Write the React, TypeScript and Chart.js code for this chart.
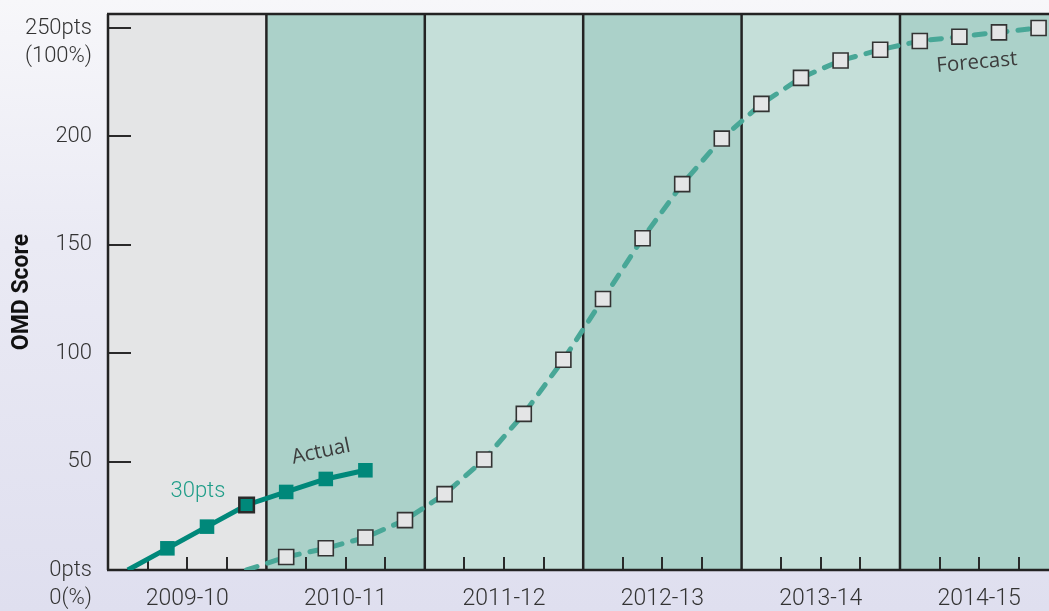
import React, { useEffect, useRef } from 'react';
import { Chart, registerables } from 'chart.js';

Chart.register(...registerables);

// ---- data ----
const yearLabels = ['2009-10', '2010-11', '2011-12', '2012-13', '2013-14', '2014-15'];
const yearCenters = [2, 6, 10, 14, 18, 22]; // quarter index of each year label
const yearEdges = [0, 4, 8, 12, 16, 20, 24]; // quarter index of year boundaries
const quarterTicks = [1, 2, 3, 5, 6, 7, 9, 10, 11, 13, 14, 15, 17, 18, 19, 21, 22, 23];

const actualX = [0.5, 1.5, 2.5, 3.5, 4.5, 5.5, 6.5];
const actualY = [0, 10, 20, 30, 36, 42, 46];

const forecastX = [3.5, 4.5, 5.5, 6.5, 7.5, 8.5, 9.5, 10.5, 11.5, 12.5, 13.5, 14.5, 15.5, 16.5, 17.5, 18.5, 19.5, 20.5, 21.5, 22.5, 23.5];
const forecastY = [0, 6, 10, 15, 23, 35, 51, 72, 97, 125, 153, 178, 199, 215, 227, 235, 240, 244, 246, 248, 250];

const yTickValues = [0, 50, 100, 150, 200, 250];
const yTickLabels = [['0pts', '0(%)'], ['50'], ['100'], ['150'], ['200'], ['250pts', '(100%)']];

const bandColors = ['#e4e5e6', '#abd1c9', '#c5dfd9', '#abd1c9', '#c5dfd9', '#abd1c9'];

const annotations = [
  { text: '30pts', x: 2.27, y: 36, rot: 0, color: '#1f9d88', font: '300 22px Roboto' },
  { text: 'Actual', x: 5.38, y: 54.5, rot: -12, color: '#3c3c3c', font: '20.5px "Open Sans"' },
  { text: 'Forecast', x: 21.94, y: 234, rot: -5, color: '#3c3c3c', font: '20.5px "Open Sans"' },
];

const framePlugin = {
  id: 'frame',
  beforeDatasetsDraw(chart: any) {
    const { ctx, chartArea, scales } = chart;
    const xs = scales.x;
    const ys = scales.y;
    ctx.save();
    // bands
    for (let i = 0; i < yearEdges.length - 1; i++) {
      const x0 = xs.getPixelForValue(yearEdges[i]);
      const x1 = Math.min(xs.getPixelForValue(yearEdges[i + 1]), chartArea.right);
      ctx.fillStyle = bandColors[i];
      ctx.fillRect(x0, chartArea.top, x1 - x0, chartArea.bottom - chartArea.top);
    }
    // y ticks inside
    ctx.strokeStyle = '#2a2a2a';
    ctx.lineWidth = 2;
    yTickValues.forEach((v) => {
      if (v === 0) return;
      const y = Math.round(ys.getPixelForValue(v));
      ctx.beginPath();
      ctx.moveTo(chartArea.left, y);
      ctx.lineTo(chartArea.left + 23, y);
      ctx.stroke();
    });
    // quarter ticks
    quarterTicks.forEach((q) => {
      const x = Math.round(xs.getPixelForValue(q));
      ctx.beginPath();
      ctx.moveTo(x, chartArea.bottom);
      ctx.lineTo(x, chartArea.bottom - 13);
      ctx.stroke();
    });
    // year separators
    ctx.lineWidth = 2.5;
    ctx.strokeStyle = '#232323';
    yearEdges.forEach((q) => {
      const x = xs.getPixelForValue(q);
      if (x > chartArea.right) return;
      ctx.beginPath();
      ctx.moveTo(x, chartArea.top);
      ctx.lineTo(x, chartArea.bottom);
      ctx.stroke();
    });
    // frame top & bottom
    ctx.beginPath();
    ctx.moveTo(chartArea.left - 1, chartArea.top);
    ctx.lineTo(chartArea.right, chartArea.top);
    ctx.stroke();
    ctx.beginPath();
    ctx.moveTo(chartArea.left - 1, chartArea.bottom);
    ctx.lineTo(chartArea.right, chartArea.bottom);
    ctx.stroke();
    ctx.restore();
  },
  afterDraw(chart: any) {
    const { ctx, chartArea, scales } = chart;
    const xs = scales.x;
    const ys = scales.y;
    ctx.save();
    // y tick labels
    ctx.font = '300 22px Roboto';
    ctx.fillStyle = '#333333';
    ctx.textAlign = 'right';
    ctx.textBaseline = 'middle';
    yTickValues.forEach((v, i) => {
      const y = ys.getPixelForValue(v);
      yTickLabels[i].forEach((line, j) => {
        ctx.fillText(line, chartArea.left - 16, y + j * 28);
      });
    });
    // annotations
    annotations.forEach((a) => {
      ctx.save();
      ctx.translate(xs.getPixelForValue(a.x), ys.getPixelForValue(a.y));
      ctx.rotate((a.rot * Math.PI) / 180);
      ctx.font = a.font;
      ctx.fillStyle = a.color;
      ctx.textAlign = 'center';
      ctx.textBaseline = 'middle';
      ctx.fillText(a.text, 0, 0);
      ctx.restore();
    });
    ctx.restore();
  },
};

export default function App() {
  const ref = useRef<HTMLCanvasElement>(null);
  useEffect(() => {
    if (!ref.current) return;
    const chart = new Chart(ref.current, {
      type: 'line',
      data: {
        datasets: [
          {
            label: 'Actual',
            data: actualX.map((x, i) => ({ x, y: actualY[i] })),
            borderColor: '#00887a',
            borderWidth: 5,
            pointStyle: 'rect',
            pointRadius: actualX.map((_, i) => (i === 0 ? 0 : 10.3)),
            pointBackgroundColor: '#00887a',
            pointBorderColor: actualX.map((_, i) => (actualY[i] === 30 ? '#2a2a2a' : '#00887a')),
            pointBorderWidth: actualX.map((_, i) => (actualY[i] === 30 ? 2.5 : 0)),
            tension: 0,
          },
          {
            label: 'Forecast',
            data: forecastX.map((x, i) => ({ x, y: forecastY[i] })),
            borderColor: '#48a797',
            borderWidth: 5,
            borderDash: [11, 11],
            borderCapStyle: 'round',
            pointStyle: 'rect',
            pointRadius: forecastX.map((_, i) => (i === 0 ? 0 : 10.6)),
            pointBackgroundColor: '#e4e5e6',
            pointBorderColor: '#333333',
            pointBorderWidth: 1.6,
            tension: 0,
          },
        ],
      },
      options: {
        animation: false,
        responsive: false,
        devicePixelRatio: 1,
        layout: { autoPadding: false, padding: { top: 14, left: 0, right: 0, bottom: 0 } },
        plugins: { legend: { display: false }, tooltip: { enabled: false } },
        scales: {
          x: {
            type: 'linear',
            min: 0,
            max: 23.763,
            grid: { display: false, drawTicks: false },
            border: { display: false },
            afterBuildTicks: (s: any) => {
              s.ticks = yearCenters.map((v) => ({ value: v }));
            },
            afterFit: (s: any) => {
              s.height = 41;
              s.paddingLeft = 0;
              s.paddingRight = 0;
            },
            ticks: {
              autoSkip: false,
              maxRotation: 0,
              padding: 15,
              color: '#333333',
              font: { family: 'Roboto', size: 23, weight: '300' as any },
              callback: (v: any) => yearLabels[yearCenters.indexOf(Number(v))] ?? '',
            },
          },
          y: {
            type: 'linear',
            min: 0,
            max: 256.46,
            grid: { display: false, drawTicks: false },
            border: { display: false },
            afterBuildTicks: (s: any) => {
              s.ticks = yTickValues.map((v) => ({ value: v }));
            },
            afterFit: (s: any) => {
              s.width = 108;
              s.paddingTop = 0;
              s.paddingBottom = 0;
            },
            ticks: { display: false },
            title: {
              display: true,
              text: 'OMD Score',
              color: '#111111',
              font: { family: 'Roboto', size: 23, weight: 'bold' },
              padding: { top: 8, bottom: 0 },
            },
          },
        },
      },
      plugins: [framePlugin],
    });
    return () => chart.destroy();
  }, []);

  return (
    <div
      style={{
        position: 'fixed',
        left: 0,
        top: 0,
        width: 1049,
        height: 611,
        background: 'linear-gradient(to bottom, #f7f7fa 0%, #eaeaf4 40%, #dfdfef 100%)',
      }}
    >
      <canvas ref={ref} width={1049} height={611} style={{ display: 'block', width: 1049, height: 611 }} />
    </div>
  );
}
